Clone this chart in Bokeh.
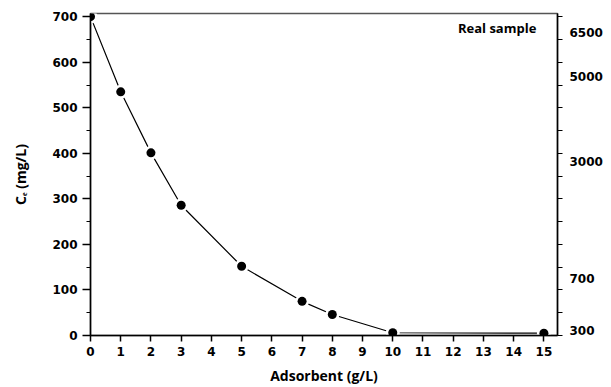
from bokeh.plotting import figure
from bokeh.models import (LinearAxis, FixedTicker, Range1d, Label, ColumnDataSource)
from bokeh.embed import file_html
from bokeh.resources import INLINE

# ---- data ----
adsorbent = [0, 1, 2, 3, 5, 7, 8, 10, 15]
ce = [700, 535, 401, 286, 152, 75, 46, 6, 5]

left_ticks = [0, 100, 200, 300, 400, 500, 600, 700]
x_ticks = list(range(0, 16))

# right axis: labels placed against the left (Ce) scale
right_labels = ["300", "700", "3000", "5000", "6500"]
right_label_pos = [11, 125, 381, 568, 665]
right_minor = [0, 50, 100, 150, 200, 250, 300, 350, 400, 450, 500, 550, 600, 650, 700]

TICK_FONT = "DejaVu Sans"
LABEL_FONT = "Open Sans"

p = figure(width=611, height=387, output_backend="svg", toolbar_location=None,
           x_range=Range1d(0, 15.45), y_range=Range1d(0, 707),
           min_border_left=90, min_border_right=54, min_border_top=13,
           min_border_bottom=50)
p.background_fill_color = "white"
p.border_fill_color = "white"
p.xgrid.visible = False
p.ygrid.visible = False
p.outline_line_color = "#555555"
p.outline_line_width = 1.5

src = ColumnDataSource(dict(x=adsorbent, y=ce))
p.line("x", "y", source=src, line_color="black", line_width=1.2)
p.scatter("x", "y", source=src, size=14, fill_color="white", line_color=None)
p.scatter("x", "y", source=src, size=9, fill_color="black", line_color=None)

def style_axis(ax):
    ax.major_label_text_font = TICK_FONT
    ax.major_label_text_font_style = "bold"
    ax.major_label_text_font_size = "12px"
    ax.major_label_text_color = "black"
    ax.axis_label_text_color = "black"
    ax.axis_line_color = "black"
    ax.major_tick_line_color = "black"
    ax.minor_tick_line_color = "black"
    ax.axis_line_width = 1.5
    ax.major_tick_line_width = 1.5
    ax.minor_tick_line_width = 1.2

# x axis
xa = p.xaxis[0]
style_axis(xa)
xa.ticker = FixedTicker(ticks=x_ticks)
xa.axis_label = "Adsorbent (g/L)"
xa.axis_label_text_font = LABEL_FONT
xa.axis_label_text_font_style = "bold"
xa.axis_label_text_font_size = "14px"
xa.axis_label_standoff = 7
xa.major_label_standoff = 5
xa.major_tick_out = 6
xa.major_tick_in = 0

# left axis
ya = p.yaxis[0]
style_axis(ya)
ya.ticker = FixedTicker(ticks=left_ticks, minor_ticks=right_minor)
ya.axis_label = "C\u2091 (mg/L)"
ya.axis_label_text_font = LABEL_FONT
ya.axis_label_text_font_style = "bold"
ya.axis_label_text_font_size = "14px"
ya.axis_label_standoff = 19
ya.major_label_standoff = 5
ya.major_tick_out = 8
ya.major_tick_in = 0
ya.minor_tick_out = 4
ya.minor_tick_in = 0

# right axis
ra = LinearAxis(ticker=FixedTicker(ticks=right_label_pos, minor_ticks=right_minor))
style_axis(ra)
ra.major_label_overrides = {v: t for v, t in zip(right_label_pos, right_labels)}
ra.major_tick_line_color = None
ra.minor_tick_out = 5
ra.minor_tick_in = 0
ra.major_tick_out = 5
ra.major_label_standoff = 7
p.add_layout(ra, "right")

p.add_layout(Label(x=14.75, y=676, text="Real sample", text_align="right",
                   text_baseline="middle", text_font=LABEL_FONT,
                   text_font_style="bold", text_font_size="13px",
                   text_color="black"))

open("out.html", "w").write(file_html(p, INLINE))
